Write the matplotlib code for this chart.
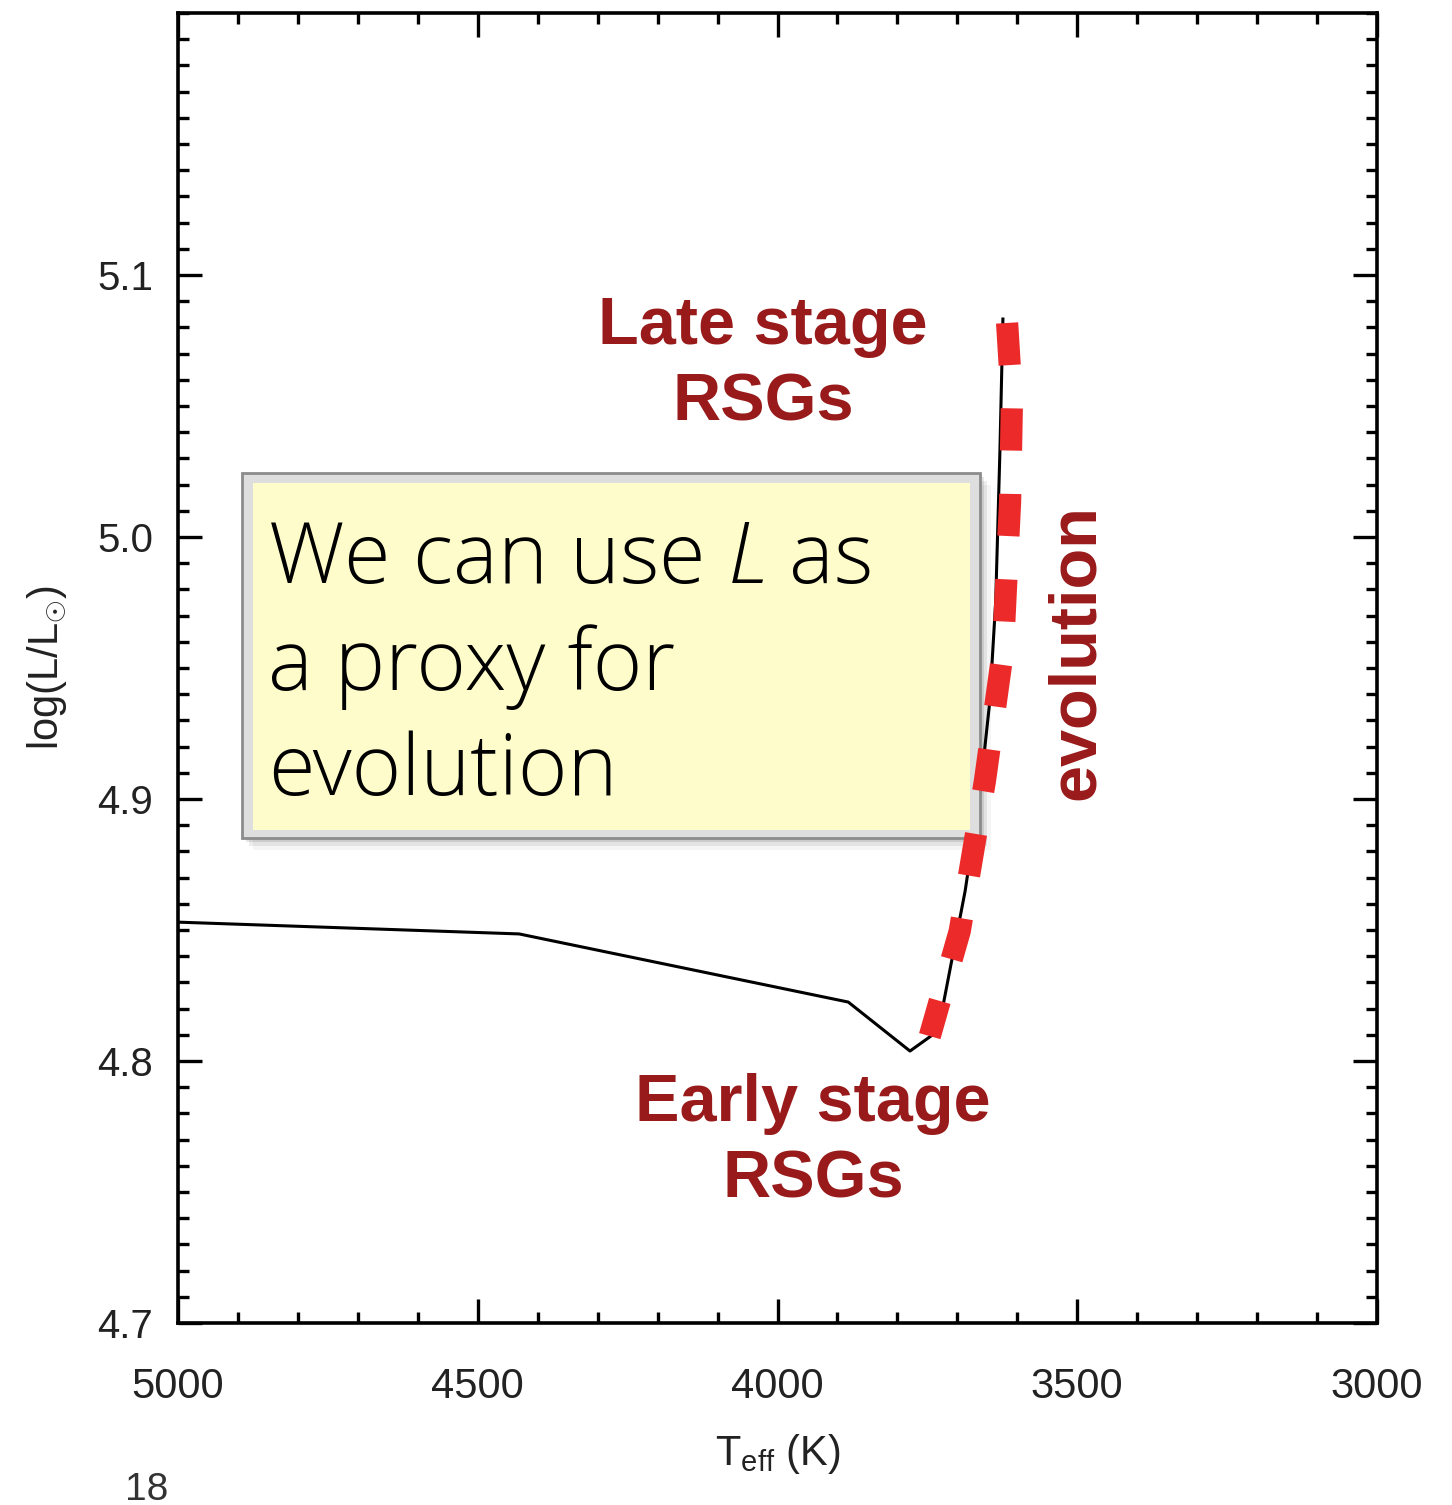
import numpy as np
import matplotlib
matplotlib.use('Agg')
import matplotlib.pyplot as plt
from matplotlib.patches import Rectangle
from matplotlib.ticker import MultipleLocator

plt.rcParams['font.family'] = ['Liberation Sans', 'DejaVu Sans']
plt.rcParams['mathtext.fontset'] = 'custom'
plt.rcParams['mathtext.rm'] = 'Liberation Sans'
plt.rcParams['mathtext.it'] = 'Open Sans:italic:light'

# evolutionary track (Teff [K], log L/Lsun)
track_teff = [5000, 4431, 3882, 3779, 3732, 3687, 3662, 3646, 3636, 3629, 3624]
track_logl = [4.853, 4.8485, 4.8225, 4.8038, 4.8115, 4.8649, 4.903, 4.937, 4.9756, 5.0328, 5.0832]

# red-supergiant branch marked as the evolution direction
rsg_teff = [3617, 3609, 3612, 3624, 3654, 3696, 3746]
rsg_logl = [5.0817, 5.0519, 5.0137, 4.9565, 4.9069, 4.8496, 4.8095]

xticks = [5000, 4500, 4000, 3500, 3000]
yticks = [4.7, 4.8, 4.9, 5.0, 5.1]

note_lines = ['We can use $L$ as', 'a proxy for', 'evolution']

darkred = '#991a1a'
txtgray = '#222222'

fig = plt.figure(figsize=(14.52, 15.05), dpi=100)
ax = fig.add_axes([178/1452, 1-1323/1505, 1199/1452, 1310/1505])

ax.plot(track_teff, track_logl, color='k', lw=2.2, zorder=2)
ax.plot(rsg_teff, rsg_logl, color='#ec2a2a', lw=16, dashes=(1.9, 1.95),
        solid_capstyle='butt', dash_capstyle='butt', zorder=5)

ax.set_xlim(5000, 3000)
ax.set_ylim(4.7, 5.2)
ax.set_xticks(xticks)
ax.set_yticks(yticks)
ax.set_yticklabels(['%.1f' % v for v in yticks])
ax.xaxis.set_minor_locator(MultipleLocator(100))
ax.yaxis.set_minor_locator(MultipleLocator(0.01))
ax.tick_params(which='both', direction='in', top=True, right=True, color='k', width=2.4)
ax.tick_params(which='major', length=17)
ax.tick_params(which='minor', length=8)
ax.tick_params(axis='x', which='major', labelsize=30, labelcolor=txtgray, pad=32)
ax.tick_params(axis='y', which='major', labelsize=29, labelcolor=txtgray, pad=18)
for s in ax.spines.values():
    s.set_linewidth(2.6)

ax.set_xlabel(r'T$_{\rm eff}$ (K)', fontsize=30, color=txtgray, labelpad=18)
ax.set_ylabel(r'log(L/L$_{\odot}$)', fontsize=30, color=txtgray, labelpad=20)

# labels on the branch
ax.text(4024, 5.0657, 'Late stage\nRSGs', color=darkred, fontsize=48, fontweight='bold',
        ha='center', va='center', linespacing=1.3, zorder=6)
ax.text(3941, 4.769, 'Early stage\nRSGs', color=darkred, fontsize=48, fontweight='bold',
        ha='center', va='center', linespacing=1.3, zorder=6)
ax.text(3500, 4.956, 'evolution', color=darkred, fontsize=48, fontweight='bold',
        rotation=90, ha='center', va='center', zorder=6)

# note box with drop shadow
for k, a in enumerate([0.10, 0.07, 0.04]):
    d = 0.003 * (k + 1)
    ax.add_patch(Rectangle((0.0534 + d, 0.3702 - d), 0.6155, 0.2786, transform=ax.transAxes,
                           facecolor='k', edgecolor='none', alpha=a, zorder=3))
ax.add_patch(Rectangle((0.0534, 0.3702), 0.6155, 0.2786, transform=ax.transAxes,
                       facecolor='#dedede', edgecolor='#8c8c8c', lw=2, zorder=3))
ax.add_patch(Rectangle((0.0626, 0.3763), 0.598, 0.2649, transform=ax.transAxes,
                       facecolor='#fffccc', edgecolor='none', zorder=3))
for line, yb in zip(note_lines, [0.5649, 0.4832, 0.4031]):
    ax.text(0.0751, yb, line, transform=ax.transAxes, family='Open Sans', fontweight='light',
            fontsize=61, color='k', ha='left', va='baseline', zorder=4)

fig.text(125/1452, 1-1472/1505, '18', fontsize=28, color='#333333', ha='left', va='top')

fig.savefig('out.png', dpi=100)
